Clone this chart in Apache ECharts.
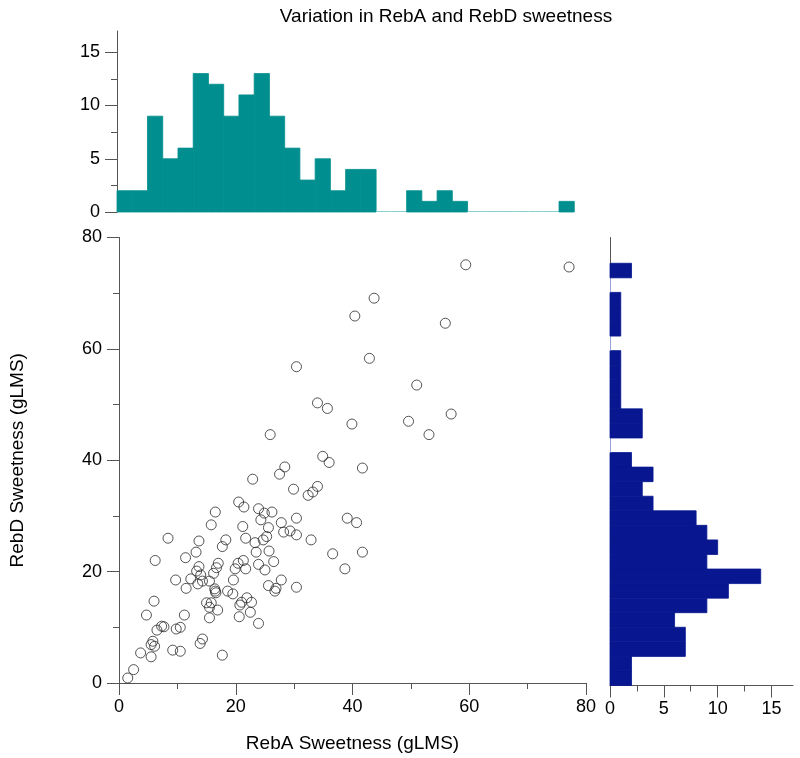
<!DOCTYPE html>
<html>
<head>
<meta charset="utf-8">
<script src="https://cdn.jsdelivr.net/npm/echarts@6/dist/echarts.min.js"></script>
<style>
html,body{margin:0;padding:0;background:#fff;}
#chart{width:800px;height:758px;}
</style>
</head>
<body>
<div id="chart"></div>
<script>
// ---- data ----
const titleText = 'Variation in RebA and RebD sweetness';
const xName = 'RebA Sweetness (gLMS)';
const yName = 'RebD Sweetness (gLMS)';

const binWidth = 2.6;
// RebA histogram counts (bins of width 2.6 starting at 0)
const rebaCounts = [2,2,9,5,6,13,12,9,11,13,9,6,3,5,2,4,4,0,0,2,1,2,1,0,0,0,0,0,0,1];
// RebD histogram counts (bins of width 2.6 starting at 0)
const rebdCounts = [2,2,7,7,6,9,11,14,9,10,9,8,4,3,4,2,0,3,3,1,1,1,1,0,1,1,1,0,2];

const rebaSweetness = [
 40.4,30.4,34.0,35.7,39.9,25.9,34.9,36.0,28.4,41.7,59.4,77.1,43.7,55.9,42.9,51.0,56.9,49.6,53.1,
 27.5,22.9,29.9,34.0,33.2,32.4,20.5,21.4,23.9,24.9,26.2,24.3,30.4,39.1,40.7,21.2,27.8,25.6,28.2,29.3,16.5,15.8,
 21.7,23.3,24.7,25.3,30.4,32.9,36.6,41.7,38.7,23.5,25.7,26.5,21.3,20.4,19.9,21.7,23.9,25.0,27.8,25.6,26.7,30.4,
 19.6,19.5,21.9,22.7,21.0,20.7,20.6,22.5,23.9,
 8.4,13.7,6.2,11.4,13.2,18.3,17.7,17.0,16.7,13.7,13.3,14.0,16.2,9.7,12.3,13.5,14.3,15.5,11.5,16.4,16.5,18.6,
 6.0,4.7,11.2,15.0,15.8,15.5,16.9,15.5,6.5,7.7,9.8,10.5,5.8,5.5,6.1,3.7,5.5,9.2,10.5,13.9,14.3,17.7,2.5,1.5,
 7.3,16.6,26.9
];
const rebdSweetness = [
 65.9,56.8,50.3,49.3,46.5,44.6,40.7,39.6,38.8,38.6,75.1,74.7,69.1,64.6,58.3,53.5,48.3,47.0,44.6,
 37.5,36.6,34.8,35.3,34.3,33.7,32.5,31.6,31.3,30.5,30.7,29.3,29.6,29.6,28.8,28.1,28.8,27.9,27.1,27.3,30.7,28.4,
 26.0,25.2,25.7,26.3,26.6,25.7,23.2,23.5,20.5,23.5,23.7,21.8,22.0,21.5,20.5,20.5,21.3,20.3,18.5,17.5,16.5,17.2,
 18.5,16.0,15.3,14.5,14.5,14.0,11.9,12.7,10.7,
 26.0,25.5,22.0,22.5,23.5,25.7,24.5,21.5,20.7,20.9,20.1,19.4,19.7,18.5,18.7,17.8,18.3,18.3,17.0,16.9,16.5,16.5,
 14.7,12.2,12.2,14.4,14.4,13.6,13.1,11.7,9.5,10.1,9.7,10.0,7.5,6.9,6.6,5.4,4.7,5.9,5.7,7.1,7.9,5.0,2.4,0.9,
 10.2,16.2,17.0
];

const scatterTicks = {min: 0, max: 80, interval: 20};
const histCountMax = 17;
const histCountTicks = [0,5,10,15];
const histCountMinorTicks = [2.5,7.5,12.5];

// ---- build ----
const topData = rebaCounts.map((c, i) => [i * binWidth, (i + 1) * binWidth, c]);
const rightData = rebdCounts.map((c, i) => [i * binWidth, (i + 1) * binWidth, c]);
const points = rebaSweetness.map((x, i) => [x, rebdSweetness[i]]);

const FONT = 'Liberation Sans, Arial, Helvetica, sans-serif';
const AXC = '#555';
const TEAL = '#008e8e';
const NAVY = '#08178f';

const chart = echarts.init(document.getElementById('chart'), null, {renderer: 'canvas'});

const gTop = {left: 117, top: 31, width: 469, height: 181};
const gMain = {left: 117, top: 237.5, width: 469, height: 448};
const gRight = {left: 610, top: 237.5, width: 183, height: 448};

const labelStyle = {color: '#000', fontSize: 18, fontFamily: FONT};

chart.setOption({
  animation: false,
  backgroundColor: '#fff',
  title: {
    text: titleText, left: 441, top: 2, textAlign: 'center',
    textStyle: {fontSize: 19, fontWeight: 'normal', color: '#000', fontFamily: FONT}
  },
  grid: [gTop, gMain, gRight],
  xAxis: [
    {gridIndex: 0, type: 'value', min: 0, max: 80, show: false},
    {gridIndex: 1, type: 'value', position: 'bottom', min: scatterTicks.min, max: scatterTicks.max, interval: scatterTicks.interval,
     name: xName, nameLocation: 'middle', nameGap: 51,
     nameTextStyle: {fontSize: 19, color: '#000', fontFamily: FONT},
     axisLine: {show: true, lineStyle: {color: AXC, width: 1}},
     axisTick: {show: true, length: 12, lineStyle: {color: AXC}},
     minorTick: {show: true, splitNumber: 2, length: 6, lineStyle: {color: AXC}},
     axisLabel: Object.assign({margin: 15}, labelStyle),
     splitLine: {show: false}},
    {gridIndex: 2, type: 'value', position: 'bottom', min: 0, max: histCountMax,
     axisLine: {show: true, lineStyle: {color: AXC, width: 1}},
     axisTick: {show: true, length: 12, customValues: histCountTicks, lineStyle: {color: AXC}},
     axisLabel: Object.assign({margin: 15, customValues: histCountTicks}, labelStyle),
     splitLine: {show: false}},
    {gridIndex: 2, type: 'value', position: 'bottom', offset: 0, min: 0, max: histCountMax,
     axisLine: {show: false},
     axisTick: {show: true, length: 6, customValues: histCountMinorTicks, lineStyle: {color: AXC}},
     axisLabel: {show: false}, splitLine: {show: false}}
  ],
  yAxis: [
    {gridIndex: 0, type: 'value', position: 'left', min: 0, max: histCountMax,
     axisLine: {show: true, lineStyle: {color: AXC, width: 1}},
     axisTick: {show: true, length: 12, customValues: histCountTicks, lineStyle: {color: AXC}},
     axisLabel: Object.assign({margin: 17, customValues: histCountTicks}, labelStyle),
     splitLine: {show: false}},
    {gridIndex: 0, type: 'value', position: 'left', offset: 0, min: 0, max: histCountMax,
     axisLine: {show: false},
     axisTick: {show: true, length: 6, customValues: histCountMinorTicks, lineStyle: {color: AXC}},
     axisLabel: {show: false}, splitLine: {show: false}},
    {gridIndex: 1, type: 'value', position: 'left', min: scatterTicks.min, max: scatterTicks.max, interval: scatterTicks.interval,
     name: yName, nameLocation: 'middle', nameGap: 92,
     nameTextStyle: {fontSize: 19, color: '#000', fontFamily: FONT},
     axisLine: {show: true, lineStyle: {color: AXC, width: 1}},
     axisTick: {show: true, length: 12, lineStyle: {color: AXC}},
     minorTick: {show: true, splitNumber: 2, length: 6, lineStyle: {color: AXC}},
     axisLabel: Object.assign({margin: 17}, labelStyle),
     splitLine: {show: false}},
    {gridIndex: 2, type: 'value', min: 0, max: 80, position: 'right',
     axisLine: {show: true, lineStyle: {color: AXC, width: 1}},
     axisTick: {show: false}, axisLabel: {show: false}, splitLine: {show: false}}
  ],
  series: [
    {
      type: 'custom', xAxisIndex: 0, yAxisIndex: 0, data: topData,
      encode: {x: [0, 1], y: 2},
      renderItem: function (params, api) {
        const x0 = api.value(0), x1 = api.value(1), c = api.value(2);
        const p0 = api.coord([x0, c]);
        const p1 = api.coord([x1, 0]);
        if (c === 0) {
          return {type: 'line', shape: {x1: p0[0], y1: p1[1] - 0.5, x2: p1[0], y2: p1[1] - 0.5},
                  style: {stroke: '#86d2d2', lineWidth: 1}};
        }
        return {type: 'rect', shape: {x: p0[0], y: p0[1], width: p1[0] - p0[0], height: p1[1] - p0[1]},
                style: {fill: TEAL, stroke: TEAL, lineWidth: 0.8}};
      }
    },
    {
      type: 'scatter', xAxisIndex: 1, yAxisIndex: 2, data: points,
      symbol: 'circle', symbolSize: 10,
      itemStyle: {color: 'rgba(255,255,255,0)', borderColor: '#2a2a2a', borderWidth: 1}
    },
    {
      type: 'custom', xAxisIndex: 2, yAxisIndex: 3, data: rightData,
      encode: {x: 2, y: [0, 1]},
      renderItem: function (params, api) {
        const y0 = api.value(0), y1 = api.value(1), c = api.value(2);
        const p0 = api.coord([0, y1]);
        const p1 = api.coord([c, y0]);
        if (c === 0) {
          return {type: 'line', shape: {x1: p0[0] + 0.5, y1: p0[1], x2: p0[0] + 0.5, y2: p1[1]},
                  style: {stroke: '#9aa3d8', lineWidth: 1}};
        }
        return {type: 'rect', shape: {x: p0[0], y: p0[1], width: p1[0] - p0[0], height: p1[1] - p0[1]},
                style: {fill: NAVY, stroke: NAVY, lineWidth: 0.8}};
      }
    }
  ]
});
</script>
</body>
</html>
